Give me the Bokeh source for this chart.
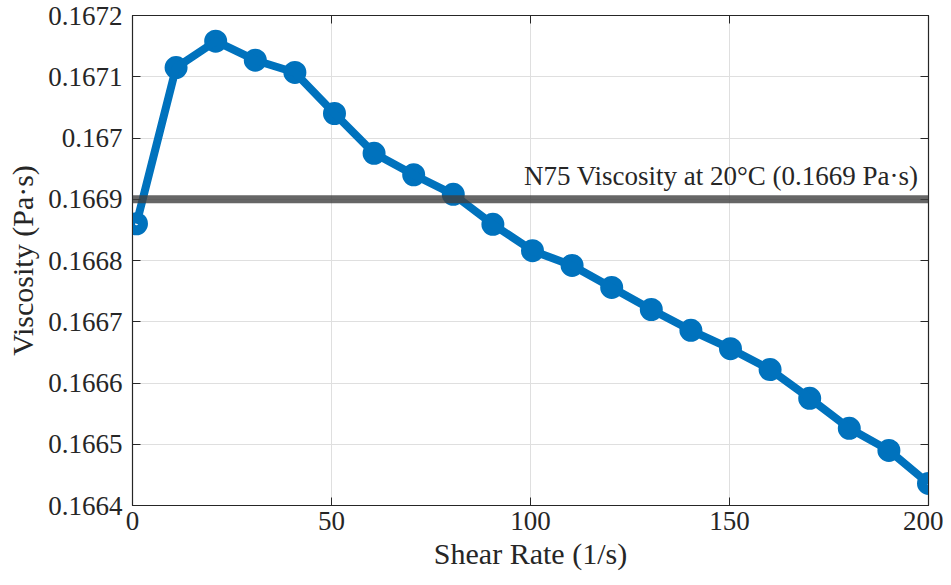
from bokeh.plotting import figure
from bokeh.models import Range1d, LinearAxis, FixedTicker, CustomJSTickFormatter, Span, Label, ColumnDataSource
from bokeh.embed import file_html
from bokeh.resources import INLINE
import numpy as np

shear_rate = list(np.linspace(1, 200, 21))
viscosity = [0.16686, 0.167115, 0.167158, 0.167127, 0.167107, 0.16704, 0.166975,
             0.16694, 0.166908, 0.166859, 0.166816, 0.166792, 0.166756, 0.16672,
             0.166686, 0.166656, 0.166622, 0.166575, 0.166526, 0.16649, 0.166436]
ref_value = 0.1669
ref_label = "N75 Viscosity at 20°C (0.1669 Pa·s)"
x_ticks = [0, 50, 100, 150, 200]
y_ticks = [0.1664, 0.1665, 0.1666, 0.1667, 0.1668, 0.1669, 0.1670, 0.1671, 0.1672]

FONT = "Liberation Serif"
AX = "#262626"

p = figure(width=943, height=577, output_backend="svg", toolbar_location=None,
           x_range=Range1d(0, 200), y_range=Range1d(0.1664, 0.1672),
           min_border_left=132, min_border_right=15, min_border_top=15, min_border_bottom=72)
p.outline_line_color = AX
p.outline_line_width = 1.2

fmt = CustomJSTickFormatter(code="return tick.toFixed(4).replace(/0+$/, '');")
blank = CustomJSTickFormatter(code="return '';")
for ax in p.xaxis:
    ax.ticker = FixedTicker(ticks=x_ticks)
for ax in p.yaxis:
    ax.ticker = FixedTicker(ticks=y_ticks)
    ax.formatter = fmt

for ax in list(p.xaxis) + list(p.yaxis):
    ax.major_tick_in = 8
    ax.major_tick_out = 0
    ax.minor_tick_line_color = None
    ax.axis_line_color = AX
    ax.major_tick_line_color = AX
    ax.major_label_text_font = FONT
    ax.major_label_text_font_size = "27px"
    ax.major_label_text_color = AX
    ax.axis_label_text_font = FONT
    ax.axis_label_text_font_size = "30px"
    ax.axis_label_text_font_style = "normal"
    ax.axis_label_text_color = AX

p.xaxis.axis_label = "Shear Rate (1/s)"
p.yaxis.axis_label = "Viscosity (Pa·s)"
p.xaxis.major_label_standoff = 6
p.yaxis.major_label_standoff = 10
p.xaxis.axis_label_standoff = 4
p.yaxis.axis_label_standoff = 6

# mirror ticks on right / top
r_ax = LinearAxis(ticker=FixedTicker(ticks=y_ticks), formatter=blank, major_tick_in=8, major_tick_out=0,
                  minor_tick_line_color=None, major_label_standoff=0,
                  axis_line_color=AX, major_tick_line_color=AX)
t_ax = LinearAxis(ticker=FixedTicker(ticks=x_ticks), formatter=blank, major_tick_in=8, major_tick_out=0,
                  minor_tick_line_color=None, major_label_standoff=0,
                  axis_line_color=AX, major_tick_line_color=AX)
p.add_layout(r_ax, "right")
p.add_layout(t_ax, "above")

p.grid.grid_line_color = "#dfdfdf"
p.grid.grid_line_width = 1
p.xgrid.ticker = FixedTicker(ticks=x_ticks)
p.ygrid.ticker = FixedTicker(ticks=y_ticks)

span = Span(location=ref_value, dimension="width", line_color="#404040", line_alpha=0.8, line_width=8)
p.add_layout(span)
p.add_layout(Label(x=197.5, y=ref_value, text=ref_label, text_align="right", text_baseline="bottom",
                   y_offset=8, text_font=FONT, text_font_size="27px", text_color=AX))

src = ColumnDataSource(dict(x=shear_rate, y=viscosity))
p.scatter("x", "y", source=src, size=13, fill_color="white", line_color="#0072BD", line_width=10)
p.line("x", "y", source=src, line_color="#0072BD", line_width=8)

open("out.html", "w").write(file_html(p, INLINE))
